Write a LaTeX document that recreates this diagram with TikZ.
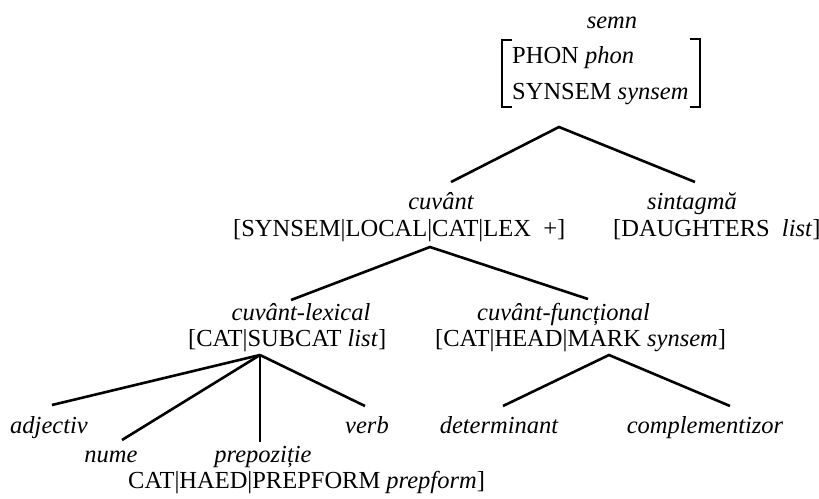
\documentclass[tikz,border=0pt]{standalone}
\usepackage{fontspec}
\setmainfont{Liberation Serif}
\begin{document}
\begin{tikzpicture}[x=1pt,y=-1pt,
  lbl/.style={inner sep=0pt,font=\fontsize{24.5}{28}\selectfont},
  branch/.style={line width=2.6pt},
  brk/.style={line width=1.6pt}]
\useasboundingbox (0,0) rectangle (819,498);

% root sign with its feature bracket
\node[lbl,anchor=base] (semn) at (612,28) {\itshape semn};
\node[lbl,anchor=base west] (phon) at (512,63) {PHON \textit{phon}};
\node[lbl,anchor=base west] (synsem) at (512,99) {SYNSEM \textit{synsem}};
\draw[brk] (512,40) -- (502,40) -- (502,107) -- (512,107);
\draw[brk] (690,39) -- (700,39) -- (700,107) -- (690,107);

% second level
\node[lbl,anchor=base] (cuv) at (441,209) {\itshape cuvânt};
\node[lbl,anchor=base west] (cuvf) at (233,236) {[SYNSEM|LOCAL|CAT|LEX\ \ +]};
\node[lbl,anchor=base] (sint) at (692,209) {\itshape sintagmă};
\node[lbl,anchor=base west] (sintf) at (613,236) {[DAUGHTERS\ \ \textit{list}]};

% third level
\node[lbl,anchor=base] (lex) at (301,320) {\itshape cuvânt-lexical};
\node[lbl,anchor=base west] (lexf) at (188,346) {[CAT|SUBCAT \textit{list}]};
\node[lbl,anchor=base west] (fn) at (477,320) {\itshape cuvânt-funcțional};
\node[lbl,anchor=base west] (fnf) at (435,346) {[CAT|HEAD|MARK \textit{synsem}]};

% leaves
\node[lbl,anchor=base] (adj) at (49,433) {\itshape adjectiv};
\node[lbl,anchor=base] (verb) at (367,433) {\itshape verb};
\node[lbl,anchor=base] (det) at (499,433) {\itshape determinant};
\node[lbl,anchor=base] (compl) at (705,433) {\itshape complementizor};
\node[lbl,anchor=base] (nume) at (111,462) {\itshape nume};
\node[lbl,anchor=base] (prep) at (263,462) {\itshape prepoziție};
\node[lbl,anchor=base west] (prepf) at (128,488) {CAT|HAED|PREPFORM \textit{prepform}]};

% branch points and branch ends
\coordinate (rootTop) at (559,127);
\coordinate (cuvEnd) at (451,182);
\coordinate (sintEnd) at (695,182);
\coordinate (cuvTop) at (430,247);
\coordinate (lexEnd) at (291,300);
\coordinate (fnEnd) at (588,299);
\coordinate (lexTop) at (260,355);
\coordinate (adjEnd) at (52,405);
\coordinate (numeEnd) at (122,440);
\coordinate (prepEnd) at (260,442);
\coordinate (verbEnd) at (365,406);
\coordinate (fnTop) at (609,355);
\coordinate (detEnd) at (503,406);
\coordinate (complEnd) at (730,406);

\draw[branch] (cuvEnd) -- (rootTop) -- (sintEnd);
\draw[branch] (lexEnd) -- (cuvTop) -- (fnEnd);
\draw[branch] (lexTop) -- (adjEnd);
\draw[branch] (lexTop) -- (numeEnd);
\draw[branch] (lexTop) -- (prepEnd);
\draw[branch] (lexTop) -- (verbEnd);
\draw[branch] (detEnd) -- (fnTop) -- (complEnd);
\end{tikzpicture}
\end{document}
